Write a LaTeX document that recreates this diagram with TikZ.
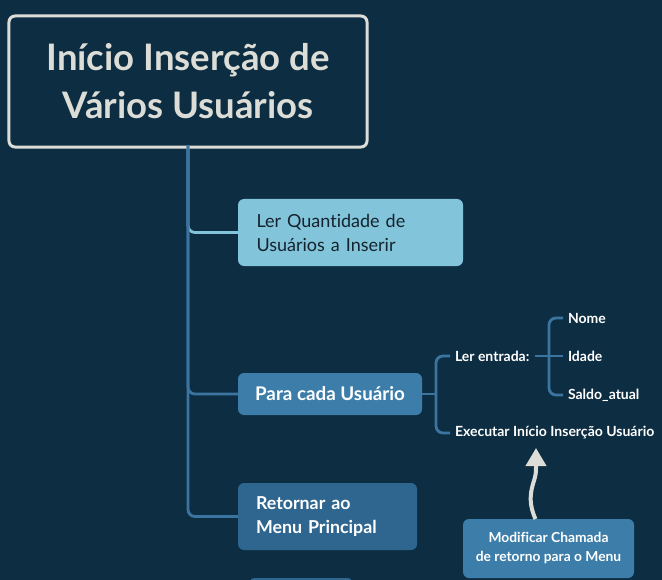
\documentclass[tikz,border=0pt]{standalone}
\usepackage{fontspec}
\setmainfont{Lato}[Ligatures={NoCommon}]
\usetikzlibrary{arrows.meta}
\definecolor{bg}{HTML}{0D2D42}
\definecolor{titleborder}{HTML}{DCDDD6}
\definecolor{lightbox}{HTML}{82C4D9}
\definecolor{midbox}{HTML}{3C7EA9}
\definecolor{darkbox}{HTML}{2F6690}
\definecolor{linkblue}{HTML}{3B74A0}
\definecolor{darktext}{HTML}{15232E}
\definecolor{arrowgray}{HTML}{DCDDD6}
\tikzset{
  box/.style={rectangle, rounded corners=6bp, inner sep=0pt, outer sep=0pt},
  leaf/.style={anchor=west, inner sep=0pt, outer sep=0pt, text=white,
    font=\fontsize{14bp}{16bp}\selectfont\bfseries},
  link/.style={draw=linkblue, line width=2.8bp, rounded corners=7bp},
  lightlink/.style={draw=lightbox, line width=2.8bp, rounded corners=7bp},
}
\begin{document}
\begin{tikzpicture}[x=1bp,y=-1bp]
\useasboundingbox (0,0) rectangle (662,580);
\fill[bg] (0,0) rectangle (662,580);
% partial box at the bottom edge
\fill[darkbox, rounded corners=4bp] (250,578) rectangle (352,600);

\node[box, draw=titleborder, line width=3bp, fill=bg, minimum width=358bp, minimum height=131bp,
  text=titleborder, align=center, font=\fontsize{36.5bp}{48bp}\selectfont\bfseries]
  (title) at (188,81.5) {Início Inserção de\\Vários Usuários};

\node[box, fill=lightbox, minimum width=225bp, minimum height=67bp, text width=188bp,
  align=left, text=darktext, font=\fontsize{18bp}{24bp}\selectfont]
  (lerq) at (350.5,232.5) {Ler Quantidade de\\Usuários a Inserir};

\node[box, fill=midbox, minimum width=184bp, minimum height=42bp,
  text=white, font=\fontsize{18.8bp}{24bp}\selectfont\bfseries]
  (para) at (330,394) {Para cada Usuário};

\node[box, fill=darkbox, minimum width=179bp, minimum height=67bp, text width=143bp,
  align=left, text=white, font=\fontsize{17.8bp}{24bp}\selectfont\bfseries]
  (ret) at (327.5,516.5) {Retornar ao\\Menu Principal};

\node[box, fill=midbox, minimum width=171bp, minimum height=59bp,
  align=center, text=white, font=\fontsize{13.8bp}{19bp}\selectfont\bfseries]
  (note) at (548.5,548.5) {Modificar Chamada\\de retorno para o Menu};

\node[leaf] (lerent) at (455,356) {Ler entrada:};
\node[leaf] (exec) at (455,433) {Executar Início Inserção Usuário};
\node[leaf] (nome) at (568,318) {Nome};
\node[leaf] (idade) at (568,356) {Idade};
\node[leaf] (saldo) at (568,395) {Saldo\_atual};

% trunk and branches
\draw[lightlink] ([yshift=1.5bp]title.south) |- (lerq.west);
\draw[link] ([yshift=1.5bp]title.south) |- (para.west);
\draw[link] ([yshift=1.5bp]title.south) |- (ret.west);

% bracket from "Para cada Usuario"
\coordinate (pj) at ([xshift=14bp]para.east);
\draw[link] (para.east) -- (pj);
\draw[link] (pj) |- ([xshift=-5bp]lerent.west);
\draw[link] (pj) |- ([xshift=-5bp]exec.west);

% bracket from "Ler entrada:"
\coordinate (lj) at (549,356);
\draw[link] ([xshift=6bp]lerent.east) -- (lj);
\draw[link] (lj) |- ([xshift=-5bp]nome.west);
\draw[link] (lj) -- ([xshift=-5bp]idade.west);
\draw[link] (lj) |- ([xshift=-5bp]saldo.west);

% wavy arrow from the note
\coordinate (tipc) at (536,448);
\draw[draw=arrowgray, line width=4bp, -{Triangle[width=20bp,length=18bp]}]
  ([xshift=-13bp]note.north) .. controls (529,505) and (530,494) .. (533,484)
  .. controls (536,474) .. (tipc);
\end{tikzpicture}
\end{document}
